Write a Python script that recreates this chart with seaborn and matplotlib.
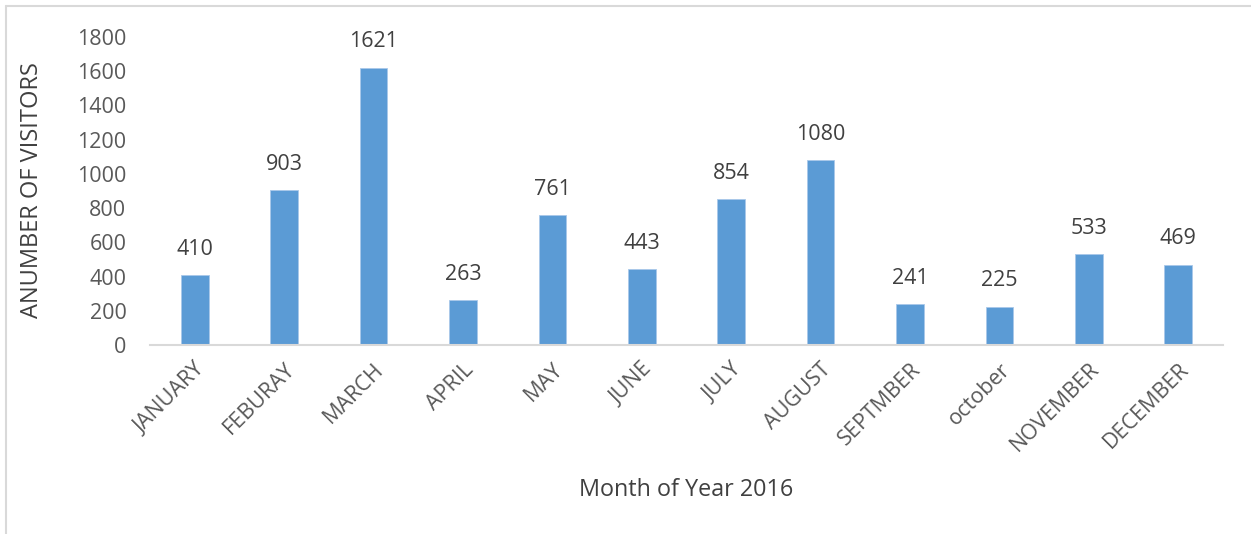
import pandas as pd
import seaborn as sns
import matplotlib.pyplot as plt
from matplotlib.lines import Line2D

# Data
months = ['JANUARY', 'FEBURAY', 'MARCH', 'APRIL', 'MAY', 'JUNE', 'JULY',
          'AUGUST', 'SEPTMBER', 'october', 'NOVEMBER', 'DECEMBER']
visitors = [410, 903, 1621, 263, 761, 443, 854, 1080, 241, 225, 533, 469]
y_ticks = [0, 200, 400, 600, 800, 1000, 1200, 1400, 1600, 1800]

df = pd.DataFrame({'month': months, 'visitors': visitors})

sns.set_style('white')
plt.rcParams['font.family'] = ['Open Sans', 'DejaVu Sans']

fig = plt.figure(figsize=(12.51, 5.34), dpi=100)
ax = fig.add_axes([0.1199, 0.3539, 0.8577, 0.5768])

sns.barplot(data=df, x='month', y='visitors', color='#5B9BD5', width=0.31,
            saturation=1, edgecolor='#a9c8ea', linewidth=0.6, ax=ax)

# Value labels above bars
for i, v in enumerate(visitors):
    ax.annotate(str(v), (i, v), xytext=(0, 11), textcoords='offset points',
                ha='center', va='bottom', fontsize=15.5, color='#404040')

ax.set_ylim(0, 1800)
ax.set_xlim(-0.5, len(months) - 0.5)
ax.set_yticks(y_ticks)
ax.tick_params(axis='y', labelsize=15.5, labelcolor='#595959', length=0, pad=17)
ax.tick_params(axis='x', labelsize=15.5, labelcolor='#595959', length=0, pad=10)
plt.setp(ax.get_xticklabels(), rotation=45, ha='right', rotation_mode='anchor')

ax.set_xlabel('Month of Year 2016', fontsize=16.8, color='#404040')
ax.set_ylabel('ANUMBER OF VISITORS', fontsize=17, color='#404040')
ax.xaxis.set_label_coords(0.4995, -0.471)
ax.yaxis.set_label_coords(-0.11, 0.503)
ax.xaxis.label.set_va('center')
ax.yaxis.label.set_va('center')

for s in ['top', 'right', 'left']:
    ax.spines[s].set_visible(False)
ax.spines['bottom'].set_color('#d9d9d9')
ax.spines['bottom'].set_linewidth(1.5)

# Chart frame (top and left edges)
fig.add_artist(Line2D([0.005, 1.0], [0.988, 0.988], transform=fig.transFigure,
                      color='#d9d9d9', linewidth=1.5))
fig.add_artist(Line2D([0.005, 0.005], [0.0, 0.988], transform=fig.transFigure,
                      color='#d9d9d9', linewidth=1.5))

fig.savefig('out.png', dpi=100)
